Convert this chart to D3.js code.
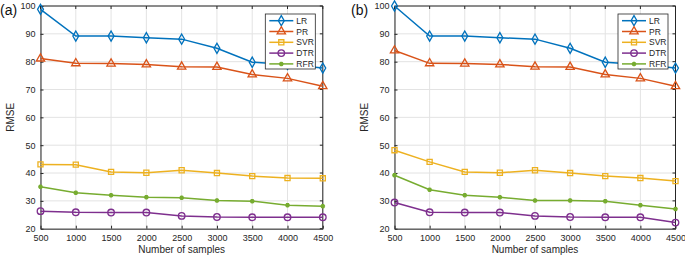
<!DOCTYPE html>
<html><head><meta charset="utf-8">
<script src="https://cdn.jsdelivr.net/npm/d3@7"></script>
<style>
html,body{margin:0;padding:0;background:#fff;}
svg{display:block;font-family:"Liberation Sans",Arial,sans-serif;}
</style></head>
<body><svg id="c" width="685" height="256"></svg>
<script>
const samples = [500,1000,1500,2000,2500,3000,3500,4000,4500];
const yTicks = [20,30,40,50,60,70,80,90,100];
const seriesNames = ["LR","PR","SVR","DTR","RFR"];
const colors = ["#0072BD","#D95319","#EDB120","#7E2F8E","#77AC30"];
const markers = ["diamond","triangle","square","circle","asterisk"];

const aLR  = [98.8,89.2,89.2,88.6,88.1,84.8,79.8,79.0,77.7];
const aPR  = [81.1,79.4,79.3,79.0,78.2,78.1,75.4,74.0,71.2];
const aSVR = [43.1,43.0,40.4,40.1,41.0,40.0,38.9,38.2,38.1];
const aDTR = [26.3,25.9,25.8,25.8,24.6,24.2,24.1,24.1,24.1];
const aRFR = [35.1,32.9,32.0,31.3,31.1,30.1,29.9,28.4,28.1];

const bLR  = [100.0,89.2,89.2,88.6,88.1,84.8,79.8,79.0,77.7];
const bPR  = [84.0,79.4,79.3,79.0,78.2,78.1,75.4,74.0,71.2];
const bSVR = [48.2,44.0,40.4,40.1,41.0,40.0,38.9,38.2,37.1];
const bDTR = [29.4,25.9,25.8,25.8,24.6,24.2,24.1,24.1,22.2];
const bRFR = [39.2,34.0,32.0,31.3,30.1,30.1,29.9,28.4,27.1];

const panels = [
  {label:"(a)", data:[aLR,aPR,aSVR,aDTR,aRFR], x0:40.5, x1:322.8, lx:0, ylabX:14},
  {label:"(b)", data:[bLR,bPR,bSVR,bDTR,bRFR], x0:394.5, x1:675.5, lx:351, ylabX:368}
];
const yTop = 6, yBot = 228.7;
const svg = d3.select("#c");

function markerPath(type){
  if(type==="diamond") return d3.symbol(d3.symbolDiamond, 30)();
  if(type==="triangle") return d3.symbol(d3.symbolTriangle, 30)();
  if(type==="square") return d3.symbol(d3.symbolSquare, 26)();
  if(type==="circle") return d3.symbol(d3.symbolCircle, 34)();
  return d3.symbol(d3.symbolAsterisk, 14)();
}
function drawMarker(g, type, color, x, y){
  const p = g.append("path").attr("d", markerPath(type)).attr("transform",`translate(${x},${y})`)
    .attr("stroke", color).attr("stroke-width", type==="asterisk"?2:1.3);
  p.attr("fill", type==="asterisk" ? color : "none");
}

panels.forEach(P=>{
  const x = d3.scaleLinear().domain([500,4500]).range([P.x0,P.x1]);
  const y = d3.scaleLinear().domain([20,100]).range([yBot,yTop]);
  const g = svg.append("g");
  g.selectAll(".gx").data(samples).enter().append("line")
    .attr("x1",d=>x(d)).attr("x2",d=>x(d)).attr("y1",yTop).attr("y2",yBot)
    .attr("stroke","#e3e3e3").attr("stroke-width",1);
  g.selectAll(".gy").data(yTicks).enter().append("line")
    .attr("y1",d=>y(d)).attr("y2",d=>y(d)).attr("x1",P.x0).attr("x2",P.x1)
    .attr("stroke","#e3e3e3").attr("stroke-width",1);
  const ax = g.append("g").attr("transform",`translate(0,${yBot})`)
    .call(d3.axisBottom(x).tickValues(samples).tickSizeInner(-3).tickSizeOuter(0).tickPadding(6).tickFormat(d3.format("d")));
  const ay = g.append("g").attr("transform",`translate(${P.x0},0)`)
    .call(d3.axisLeft(y).tickValues(yTicks).tickSizeInner(-3).tickSizeOuter(0).tickPadding(5).tickFormat(d3.format("d")));
  [ax,ay].forEach(a=>{
    a.select(".domain").attr("stroke","#262626");
    a.selectAll(".tick line").attr("stroke","#262626");
    a.selectAll("text").attr("fill","#262626").style("font-size","9px").style("font-family","'Liberation Sans',Arial,sans-serif");
  });
  g.append("line").attr("x1",P.x0).attr("x2",P.x1).attr("y1",yTop).attr("y2",yTop).attr("stroke","#262626");
  g.append("line").attr("x1",P.x1).attr("x2",P.x1).attr("y1",yTop).attr("y2",yBot).attr("stroke","#262626");
  samples.forEach(s=>g.append("line").attr("x1",x(s)).attr("x2",x(s)).attr("y1",yTop).attr("y2",yTop+3).attr("stroke","#262626"));
  yTicks.forEach(t=>g.append("line").attr("x1",P.x1).attr("x2",P.x1-3).attr("y1",y(t)).attr("y2",y(t)).attr("stroke","#262626"));
  g.append("text").attr("x",(P.x0+P.x1)/2).attr("y",252.5).attr("text-anchor","middle")
    .attr("fill","#262626").style("font-size","10px").text("Number of samples");
  g.append("text").attr("transform",`translate(${P.ylabX},${(yTop+yBot)/2}) rotate(-90)`).attr("text-anchor","middle")
    .attr("fill","#262626").style("font-size","10px").text("RMSE");
  g.append("text").attr("x",P.lx).attr("y",15).attr("fill","#111").style("font-size","14px").text(P.label);
  const line = d3.line().x((d,i)=>x(samples[i])).y(d=>y(d));
  P.data.forEach((vals,k)=>{
    g.append("path").attr("d",line(vals)).attr("fill","none").attr("stroke",colors[k]).attr("stroke-width",1.5);
    vals.forEach((v,i)=>drawMarker(g, markers[k], colors[k], x(samples[i]), y(v)));
  });
  const lx0 = P.x1-57.5, ly0 = 14;
  const lg = g.append("g");
  lg.append("rect").attr("x",lx0).attr("y",ly0).attr("width",50).attr("height",55)
    .attr("fill","#fff").attr("stroke","#262626").attr("stroke-width",0.8);
  seriesNames.forEach((n,k)=>{
    const yy = ly0+6.7+k*10.8;
    lg.append("line").attr("x1",lx0+4).attr("x2",lx0+28).attr("y1",yy).attr("y2",yy)
      .attr("stroke",colors[k]).attr("stroke-width",1.5);
    drawMarker(lg, markers[k], colors[k], lx0+16, yy);
    lg.append("text").attr("x",lx0+31).attr("y",yy+3).attr("fill","#262626").style("font-size","8.5px").text(n);
  });
});
</script></body></html>
